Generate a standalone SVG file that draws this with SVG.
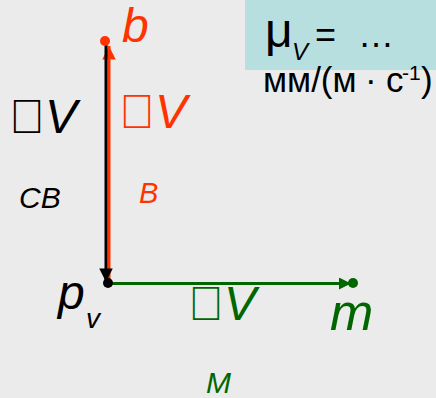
<svg xmlns="http://www.w3.org/2000/svg" width="436" height="398" viewBox="0 0 436 398">
<style>
text{font-family:"Liberation Sans",Arial,sans-serif}
.it{font-style:italic}
.blk{fill:#000}
.red{fill:#ff3300}
.grn{fill:#006600}
</style>
<defs>
<marker id="aR" viewBox="0 0 10 10" refX="10" refY="5" markerWidth="4.5" markerHeight="5" markerUnits="strokeWidth" orient="auto"><path d="M0,0L10,5L0,10z" fill="#ff3300"/></marker>
<marker id="aK" viewBox="0 0 10 10" refX="10" refY="5" markerWidth="5" markerHeight="4.5" markerUnits="strokeWidth" orient="auto"><path d="M0,0L10,5L0,10z" fill="#000"/></marker>
<marker id="aG" viewBox="0 0 10 10" refX="10" refY="5" markerWidth="4.5" markerHeight="4" markerUnits="strokeWidth" orient="auto"><path d="M0,0L10,5L0,10z" fill="#006600"/></marker>
</defs>
<rect width="436" height="398" fill="#ebebeb"/>
<g id="scale">
<rect x="245" y="0" width="191" height="70" fill="#b7dfe0"/>
<text x="265" y="47" font-size="48" class="blk">μ</text>
<text x="292" y="60" font-size="24" class="blk it">V</text>
<text x="315" y="47" font-size="36" class="blk">=</text>
<text x="358" y="47" font-size="36" class="blk">…</text>
<text y="92" font-size="35" class="blk"><tspan x="263">мм/(м</tspan><tspan x="365">·</tspan><tspan x="386">с</tspan><tspan x="402" y="80" font-size="21">-1</tspan><tspan x="421" y="92">)</tspan></text>
</g>
<g id="connectors" fill="none" stroke-width="3">
<line x1="109" y1="281" x2="109" y2="46" stroke="#ff3300" marker-end="url(#aR)"/>
<line x1="106" y1="43" x2="106" y2="282" stroke="#000" marker-end="url(#aK)"/>
<line x1="110" y1="283.5" x2="351" y2="283.5" stroke="#006600" marker-end="url(#aG)"/>
</g>
<g id="node-b">
<circle cx="105" cy="41" r="5" fill="#ff3300"/>
<text x="122" y="42" font-size="48" class="red it">b</text>
</g>
<g id="node-pv">
<circle cx="108" cy="283" r="5" fill="#000"/>
<text x="58" y="309" font-size="48" class="blk it">p</text>
<text x="86" y="328" font-size="28" class="blk it">v</text>
</g>
<g id="node-m">
<circle cx="353" cy="283" r="5" fill="#006600"/>
<text x="330" y="330" font-size="52" class="grn it">m</text>
</g>
<g id="label-sv">
<text x="9" y="133" font-size="48" class="blk"><tspan>&#xF044;</tspan><tspan class="it">V</tspan></text>
<text x="19" y="208" font-size="30" class="blk it">CB</text>
</g>
<g id="label-b">
<text x="119" y="128" font-size="48" class="red"><tspan>&#xF044;</tspan><tspan class="it">V</tspan></text>
<text x="139" y="203" font-size="29" class="red it">B</text>
</g>
<g id="label-m">
<text x="188" y="320" font-size="48" class="grn"><tspan>&#xF044;</tspan><tspan class="it">V</tspan></text>
<text x="206" y="393" font-size="30" class="grn it">M</text>
</g>
</svg>
